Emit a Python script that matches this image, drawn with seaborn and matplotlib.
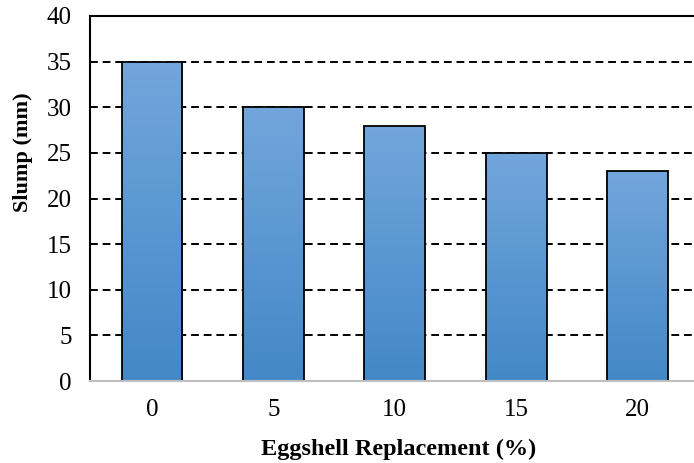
import numpy as np
import pandas as pd
import matplotlib
matplotlib.use("Agg")
import matplotlib.pyplot as plt
import seaborn as sns
from matplotlib.colors import LinearSegmentedColormap

# Slump test results for each eggshell replacement level
replacement = ["0", "5", "10", "15", "20"]
slump_mm = [35, 30, 28, 25, 23]
y_ticks = [0, 5, 10, 15, 20, 25, 30, 35, 40]

df = pd.DataFrame({"Replacement": replacement, "Slump": slump_mm})

sns.set_theme(style="white")
plt.rcParams["font.family"] = ["Liberation Serif", "DejaVu Serif"]

fig = plt.figure(figsize=(6.94, 4.63), dpi=100)
ax = fig.add_axes([90 / 694, 82 / 463, 606 / 694, 365 / 463])

sns.barplot(data=df, x="Replacement", y="Slump", ax=ax, color="#5B9BD5",
            width=0.5, edgecolor="black", linewidth=1.3, saturation=1, zorder=3)

# vertical gradient fill inside each bar
cmap = LinearSegmentedColormap.from_list("bar_grad", ["#4388C7", "#72A6DC"])
grad = np.linspace(0, 1, 256).reshape(-1, 1)
for p in ax.patches:
    x0, y0 = p.get_x(), p.get_y()
    w, h = p.get_width(), p.get_height()
    im = ax.imshow(grad, cmap=cmap, origin="lower", aspect="auto",
                   extent=(x0, x0 + w, y0, y0 + h), zorder=3.5,
                   interpolation="bilinear")
    im.set_clip_path(p)
    p.set_facecolor("none")
    p.set_zorder(4)

ax.set_xlim(-0.51, 4.48)
ax.set_ylim(0, 40)
ax.set_yticks(y_ticks)
ax.set_yticklabels([str(t) for t in y_ticks])

ax.yaxis.grid(True, linestyle=(0, (4, 2.5)), color="black", linewidth=1.4, zorder=1)
ax.xaxis.grid(False)

for side in ["top", "left"]:
    ax.spines[side].set_color("black")
    ax.spines[side].set_linewidth(1.5)
ax.spines["right"].set_visible(False)
ax.spines["bottom"].set_color("#BFBFBF")
ax.spines["bottom"].set_linewidth(1.5)
ax.spines["bottom"].set_zorder(5)

ax.tick_params(axis="both", length=0, labelsize=18, colors="black")
ax.tick_params(axis="x", pad=13)
ax.tick_params(axis="y", pad=13)

ax.set_xlabel("Eggshell Replacement (%)", fontsize=17.5, fontweight="bold",
              color="black")
ax.set_ylabel("Slump (mm)", fontsize=16, fontweight="bold", color="black")
ax.xaxis.set_label_coords(0.51, -0.158)
ax.yaxis.set_label_coords(-0.094, 0.627)

fig.savefig("out.png", dpi=100)
